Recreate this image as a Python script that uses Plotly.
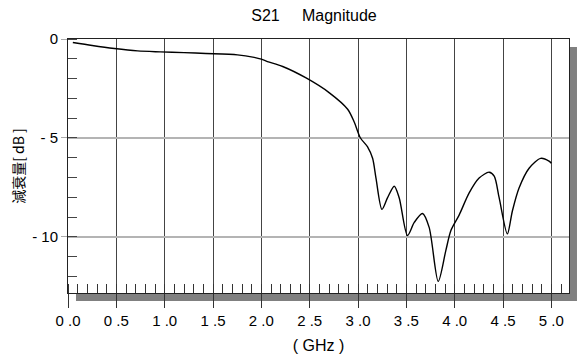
import plotly.graph_objects as go

# Data (S21 magnitude vs frequency)
freq_ghz = [0.05, 0.25, 0.48, 0.72, 0.955, 1.2, 1.426, 1.753, 1.926, 2.0, 2.063, 2.221,
            2.463, 2.704, 2.893, 2.962, 3.024, 3.099, 3.151, 3.186, 3.248, 3.306,
            3.375, 3.426, 3.512, 3.582, 3.667, 3.736, 3.83, 3.909, 3.961, 4.046,
            4.15, 4.253, 4.357, 4.409, 4.46, 4.545, 4.597, 4.666, 4.77, 4.89,
            4.976, 5.0]
s21_db = [-0.18, -0.33, -0.48, -0.6, -0.65, -0.69, -0.73, -0.8, -0.93, -1.02, -1.14, -1.39,
          -1.97, -2.72, -3.55, -4.21, -4.99, -5.45, -6.03, -7.03, -8.61, -8.02,
          -7.44, -8.02, -9.93, -9.27, -8.82, -9.52, -12.25, -10.68, -9.68, -8.9,
          -7.78, -7.03, -6.73, -6.93, -8.02, -9.85, -8.69, -7.53, -6.53, -6.03,
          -6.17, -6.28]

x_tickvals = [0.0, 0.5, 1.0, 1.5, 2.0, 2.5, 3.0, 3.5, 4.0, 4.5, 5.0]
x_ticktext = ["0 .0", "0 .5", "1 .0", "1 .5", "2 .0", "2 .5", "3 .0", "3 .5", "4 .0", "4 .5", "5 .0"]
y_tickvals = [0, -5, -10]
y_ticktext = ["0", "- 5", "- 10"]

title_text = "S21\u00a0\u00a0\u00a0\u00a0\u00a0Magnitude"
x_title = "( GHz )"
y_title = "減衰量[ dB ]"

W, H = 582, 363
L, R, T, B = 68, 12, 39, 66
pw, ph = W - L - R, H - T - B
sx, sy = 8 / pw, 8 / ph

font_main = "Liberation Sans, Arial, sans-serif"

fig = go.Figure()
fig.add_trace(go.Scatter(
    x=freq_ghz, y=s21_db, mode="lines",
    line=dict(color="black", width=1.4, shape="spline", smoothing=0.8),
    hoverinfo="skip", showlegend=False,
))

fig.update_layout(
    width=W, height=H,
    margin=dict(l=L, r=R, t=T, b=B),
    paper_bgcolor="white", plot_bgcolor="white",
    title=dict(text=title_text, x=314 / W, xanchor="center", y=1 - 15 / H, yanchor="middle",
               font=dict(family=font_main, size=16, color="black")),
    font=dict(family=font_main, size=15, color="black"),
    shapes=[
        dict(type="rect", xref="paper", yref="paper", x0=sx, x1=1 + sx, y0=-sy, y1=1 - sy,
             fillcolor="#808080", line=dict(width=0), layer="below"),
        dict(type="rect", xref="paper", yref="paper", x0=0, x1=1, y0=0, y1=1,
             fillcolor="white", line=dict(width=0), layer="below"),
    ],
)

fig.update_xaxes(
    range=[0, pw / 96.86],
    tickmode="array", tickvals=x_tickvals, ticktext=x_ticktext,
    ticks="outside", ticklen=14, tickcolor="#333", tickwidth=1,
    showgrid=True, gridcolor="#444", gridwidth=1,
    showline=True, linecolor="#222", linewidth=1, mirror=True,
    zeroline=False,
    tickfont=dict(family=font_main, size=15, color="black"),
    title=dict(text=x_title, font=dict(family=font_main, size=16, color="black"), standoff=11),
    minor=dict(tickmode="linear", tick0=0, dtick=0.1, ticks="inside", ticklen=9,
               tickcolor="#333", tickwidth=1, showgrid=False),
)

fig.update_yaxes(
    range=[-ph / 20.1, 0],
    tickmode="array", tickvals=y_tickvals, ticktext=y_ticktext,
    ticks="outside", ticklen=6, tickcolor="#aaaaaa", tickwidth=1,
    showgrid=True, gridcolor="#b4b4b4", gridwidth=1.5,
    showline=True, linecolor="#222", linewidth=1, mirror=True,
    zeroline=False,
    tickfont=dict(family=font_main, size=15, color="black"),
    title=dict(text=y_title, font=dict(family="Noto Sans CJK JP", size=14, color="black"), standoff=4),
    minor=dict(tickmode="linear", tick0=0, dtick=1, ticks="inside", ticklen=9,
               tickcolor="#444", tickwidth=1, showgrid=False),
)

fig.write_html("out.html")
